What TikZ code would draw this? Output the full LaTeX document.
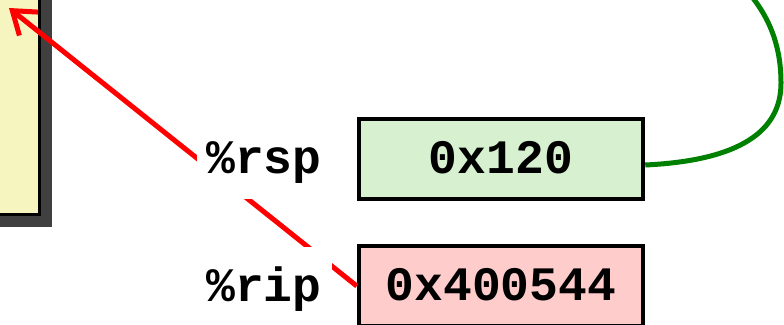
\documentclass[tikz,border=0pt]{standalone}
\usepackage{fontspec}
\newfontfamily\codefont{Liberation Mono}
\usetikzlibrary{arrows.meta}
\definecolor{memyellow}{RGB}{246,245,192}
\definecolor{rspfill}{RGB}{214,240,208}
\definecolor{ripfill}{RGB}{255,204,204}
\definecolor{shadowgray}{RGB}{64,64,64}
\definecolor{loopgreen}{RGB}{0,128,0}
\begin{document}
\begin{tikzpicture}[x=1pt,y=-1pt,
  code/.style={font=\codefont\bfseries\fontsize{48}{48}\selectfont,
    text height=36pt, text depth=8pt, inner sep=0pt},
  regbox/.style={code, draw=black, line width=4.5pt,
    minimum width=284pt, minimum height=80pt},
  reglabel/.style={code, fill=white, minimum width=135pt, minimum height=80pt},
  flow/.style={line width=5pt}]
\useasboundingbox (0,0) rectangle (784,324);

% memory block with its drop shadow
\fill[shadowgray] (-20,-20) rectangle (52,227);
\draw[line width=3.5pt, fill=memyellow] (-20,-20) rectangle (39.5,214.5);

% register contents
\node[regbox, fill=rspfill] (rspbox) at (501,159) {0x120};
\node[regbox, fill=ripfill] (ripbox) at (501,286) {0x400544};

% instruction pointer arrow into memory
\coordinate (target) at (9,8);
\draw[flow, red, -{Straight Barb[length=21pt,width=30pt]}] (ripbox.west) -- (target);

% register names (white backing cuts the arrow)
\node[reglabel] (rsplab) at (264,159) {\%rsp};
\node[reglabel] (riplab) at (264,287) {\%rip};

% stack pointer loop
\coordinate (loopend) at (748,-8);
\draw[flow, loopgreen] ([yshift=-6pt]rspbox.east)
  .. controls (750,160) and (781,125) .. (781,83)
  .. controls (781,50) and (772,20) .. (loopend);
\end{tikzpicture}
\end{document}
